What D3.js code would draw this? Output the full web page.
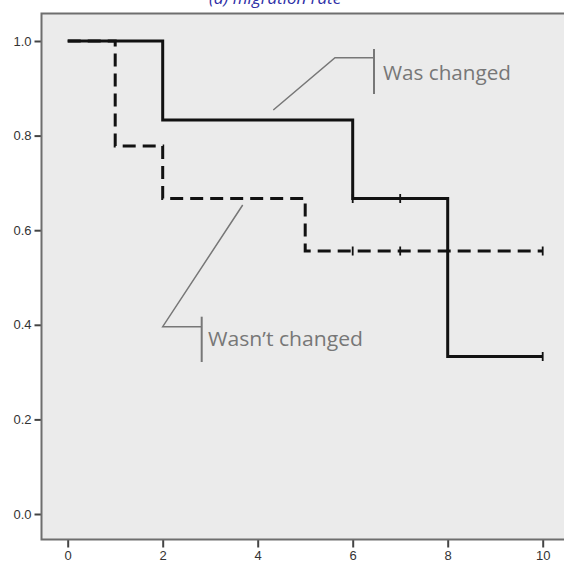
<!DOCTYPE html>
<html>
<head>
<meta charset="utf-8">
<script src="https://cdn.jsdelivr.net/npm/d3@7"></script>
<style>
  html, body { margin: 0; padding: 0; background: #fff; }
  svg { display: block; }
</style>
</head>
<body>
<script>
// Kaplan–Meier curves for migration rate
const changedTimes = [0, 2, 6, 8, 10];
const changedSurv = [1.0, 0.833, 0.667, 0.333, 0.333];
const changedCensorTimes = [6, 7, 10];
const changedCensorSurv = [0.667, 0.667, 0.333];

const unchangedTimes = [0, 1, 2, 5, 10];
const unchangedSurv = [1.0, 0.778, 0.667, 0.556, 0.556];
const unchangedCensorTimes = [6, 7, 10];
const unchangedCensorSurv = [0.556, 0.556, 0.556];

const xTicks = [0, 2, 4, 6, 8, 10];
const yTicks = [0.0, 0.2, 0.4, 0.6, 0.8, 1.0];
const titleText = "(d) migration rate";
const changedLabel = "Was changed";
const unchangedLabel = "Wasn\u2019t changed";

const W = 564, H = 571;
const frame = { left: 41.5, top: 13.5, right: 566, bottom: 539.5 };

const x = d3.scaleLinear().domain([0, 10]).range([67.7, 542.7]);
const y = d3.scaleLinear().domain([0, 1]).range([514, 41]);

const svg = d3.select("body").append("svg")
  .attr("width", W).attr("height", H);

// plot background
svg.append("rect")
  .attr("x", frame.left).attr("y", frame.top)
  .attr("width", frame.right - frame.left)
  .attr("height", frame.bottom - frame.top)
  .attr("fill", "#ebebeb");

// title (partly above the top edge)
svg.append("text")
  .attr("x", 275).attr("y", 3.5)
  .attr("text-anchor", "middle")
  .attr("font-family", "'Open Sans', sans-serif")
  .attr("font-style", "italic")
  .attr("font-size", 17)
  .attr("fill", "#2e2ea6")
  .text(titleText);

// axes
const axisColor = "#6e6e6e";
const yAxis = d3.axisLeft(y).tickValues(yTicks).tickFormat(d3.format(".1f")).tickSize(7).tickPadding(3);
const xAxis = d3.axisBottom(x).tickValues(xTicks).tickFormat(d3.format("d")).tickSize(8).tickPadding(3);

const gy = svg.append("g").attr("transform", `translate(${frame.left},0)`).call(yAxis);
const gx = svg.append("g").attr("transform", `translate(0,${frame.bottom})`).call(xAxis);
[gx, gy].forEach(g => {
  g.select(".domain").remove();
  g.selectAll(".tick line").attr("stroke", "#444").attr("stroke-width", 2);
  g.selectAll(".tick text")
    .attr("font-family", "'Liberation Sans', Arial, sans-serif")
    .attr("font-size", 13)
    .attr("fill", "#333");
});

// frame lines: left, top, bottom
svg.append("path")
  .attr("d", `M${frame.right},${frame.top}H${frame.left}V${frame.bottom}H${frame.right}`)
  .attr("fill", "none")
  .attr("stroke", axisColor)
  .attr("stroke-width", 2);

// step curves
const step = d3.line().x(d => x(d[0])).y(d => y(d[1])).curve(d3.curveStepAfter);

svg.append("path")
  .datum(d3.zip(unchangedTimes, unchangedSurv))
  .attr("d", step)
  .attr("fill", "none")
  .attr("stroke", "#111")
  .attr("stroke-width", 3)
  .attr("stroke-dasharray", "13,7");

svg.append("path")
  .datum(d3.zip(changedTimes, changedSurv))
  .attr("d", step)
  .attr("fill", "none")
  .attr("stroke", "#111")
  .attr("stroke-width", 3);

// censor marks
function censor(times, surv) {
  svg.append("g").selectAll("line")
    .data(d3.zip(times, surv))
    .join("line")
    .attr("x1", d => x(d[0])).attr("x2", d => x(d[0]))
    .attr("y1", d => y(d[1]) - 4.5).attr("y2", d => y(d[1]) + 4.5)
    .attr("stroke", "#111")
    .attr("stroke-width", 1.8);
}
censor(changedCensorTimes, changedCensorSurv);
censor(unchangedCensorTimes, unchangedCensorSurv);

// callout labels
const noteColor = "#777";
function callout(points, bracketX, bracketY0, bracketY1, label, tx, ty, len) {
  svg.append("path")
    .attr("d", d3.line()(points))
    .attr("fill", "none").attr("stroke", noteColor).attr("stroke-width", 1.5);
  svg.append("line")
    .attr("x1", bracketX).attr("x2", bracketX)
    .attr("y1", bracketY0).attr("y2", bracketY1)
    .attr("stroke", noteColor).attr("stroke-width", 2);
  svg.append("text")
    .attr("x", tx).attr("y", ty)
    .attr("font-family", "'Open Sans', sans-serif")
    .attr("font-size", 20)
    .attr("fill", noteColor)
    .attr("textLength", len)
    .attr("lengthAdjust", "spacingAndGlyphs")
    .text(label);
}
callout([[273.3, 110], [335, 57.7], [374, 57.7]], 374, 49, 94, changedLabel, 383, 79.5, 128);
callout([[242.7, 205], [162.7, 326.7], [201.7, 326.7]], 201.7, 316.7, 362, unchangedLabel, 208, 346, 155);
</script>
</body>
</html>
